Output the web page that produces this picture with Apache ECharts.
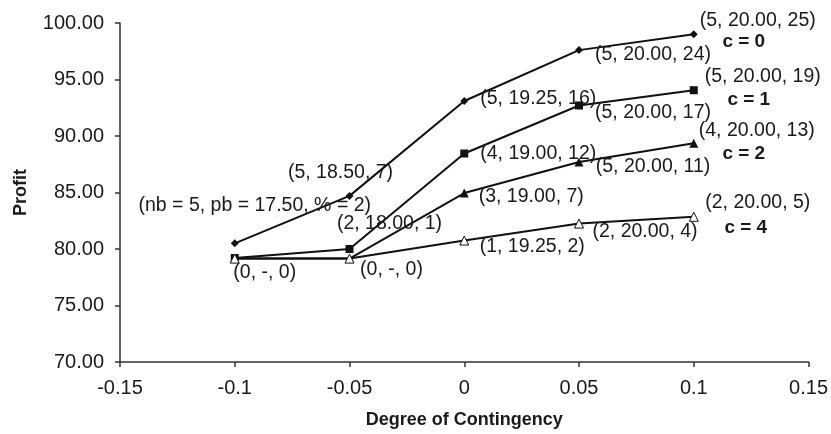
<!DOCTYPE html>
<html>
<head>
<meta charset="utf-8">
<script src="https://cdn.jsdelivr.net/npm/echarts@6/dist/echarts.min.js"></script>
<style>
html,body{margin:0;padding:0;background:#fff;}
#chart{width:831px;height:434px;}
</style>
</head>
<body>
<div id="chart"></div>
<script>
// ---- data ----
const xValues = [-0.1, -0.05, 0, 0.05, 0.1];
const seriesNames = ["c = 0", "c = 1", "c = 2", "c = 4"];
const profitC0 = [80.5, 84.7, 93.1, 97.6, 99.0];
const profitC1 = [79.2, 80.0, 88.45, 92.7, 94.05];
const profitC2 = [79.15, 79.15, 84.95, 87.7, 89.35];
const profitC4 = [79.15, 79.15, 80.75, 82.25, 82.85];
const labelsC0 = ["(nb = 5, pb = 17.50, % = 2)", "(5, 18.50, 7)", "(5, 19.25, 16)", "(5, 20.00, 24)", "(5, 20.00, 25)"];
const labelsC1 = ["(0, -, 0)", "(2, 18.00, 1)", "(4, 19.00, 12)", "(5, 20.00, 17)", "(5, 20.00, 19)"];
const labelsC2 = ["", "", "(3, 19.00, 7)", "(5, 20.00, 11)", "(4, 20.00, 13)"];
const labelsC4 = ["", "(0, -, 0)", "(1, 19.25, 2)", "(2, 20.00, 4)", "(2, 20.00, 5)"];
const xTickLabels = ["-0.15", "-0.1", "-0.05", "0", "0.05", "0.1", "0.15"];
const yTickLabels = ["70.00", "75.00", "80.00", "85.00", "90.00", "95.00", "100.00"];

// ---- layout / style (not data) ----
const labelOffsets = [
  [[20,-38],[-9,-23],[74,-2],[74,5],[64,-14]],
  [[30,15],[40,-25],[74,0],[74,7],[69,-14]],
  [[0,0],[0,0],[67,4],[74,5],[63,-13]],
  [[0,0],[42,11],[68,6],[66,8],[64,-14]]
];
const nameOffsets = [[50,7],[55,10],[50,10],[52,11]];
const symbols = [
  {symbol:'diamond', size:8, fill:'#111'},
  {symbol:'rect', size:8, fill:'#111'},
  {symbol:'triangle', size:9, fill:'#111'},
  {symbol:'triangle', size:9, fill:'#fff'}
];
const FONT = '"Liberation Sans", Arial, sans-serif';

const allProfits = [profitC0, profitC1, profitC2, profitC4];
const allLabels = [labelsC0, labelsC1, labelsC2, labelsC4];

const series = allProfits.map((vals, si) => {
  const last = vals.length - 1;
  return {
    name: seriesNames[si],
    type: 'line',
    data: vals.map((v, i) => ({
      value: [xValues[i], v],
      label: {
        show: allLabels[si][i] !== "",
        formatter: allLabels[si][i],
        position: 'inside',
        align: 'center',
        verticalAlign: 'middle',
        offset: labelOffsets[si][i]
      }
    })),
    symbol: symbols[si].symbol,
    symbolSize: symbols[si].size,
    showAllSymbol: true,
    lineStyle: {color: '#111', width: 2},
    itemStyle: {color: symbols[si].fill, borderColor: '#111', borderWidth: symbols[si].fill === '#fff' ? 1 : 0},
    label: {color: '#1a1a1a', fontSize: 19.5, fontFamily: FONT},
    emphasis: {disabled: true},
    animation: false,
    markPoint: {
      symbol: 'circle',
      symbolSize: 1,
      itemStyle: {color: 'rgba(0,0,0,0)'},
      label: {
        show: true,
        formatter: seriesNames[si],
        position: 'inside',
        align: 'center',
        verticalAlign: 'middle',
        offset: nameOffsets[si],
        color: '#1a1a1a',
        fontSize: 19,
        fontWeight: 'bold',
        fontFamily: FONT
      },
      data: [{coord: [xValues[last], vals[last]]}]
    }
  };
});

const chart = echarts.init(document.getElementById('chart'), null, {renderer: 'canvas'});
chart.setOption({
  animation: false,
  backgroundColor: '#fff',
  grid: {left: 120, right: 21, top: 23, bottom: 65, containLabel: false},
  xAxis: {
    type: 'value',
    min: -0.15, max: 0.15, interval: 0.05,
    name: 'Degree of Contingency',
    nameLocation: 'middle',
    nameGap: 49,
    nameTextStyle: {fontSize: 18, fontWeight: 'bold', color: '#1a1a1a', fontFamily: FONT},
    axisLine: {show: true, onZero: false, lineStyle: {color: '#333', width: 1.5}},
    axisTick: {show: true, inside: false, length: 5, lineStyle: {color: '#333', width: 1.5}},
    axisLabel: {
      fontSize: 20, color: '#1a1a1a', fontFamily: FONT, margin: 16,
      formatter: v => xTickLabels[Math.round((v + 0.15) / 0.05)]
    },
    splitLine: {show: false}
  },
  yAxis: {
    type: 'value',
    min: 70, max: 100, interval: 5,
    name: 'Profit',
    nameLocation: 'middle',
    nameGap: 90,
    nameTextStyle: {fontSize: 18, fontWeight: 'bold', color: '#1a1a1a', fontFamily: FONT},
    axisLine: {show: true, onZero: false, lineStyle: {color: '#333', width: 1.5}},
    axisTick: {show: true, inside: false, length: 5, lineStyle: {color: '#333', width: 1.5}},
    axisLabel: {
      fontSize: 20, color: '#1a1a1a', fontFamily: FONT, margin: 16,
      formatter: v => yTickLabels[Math.round((v - 70) / 5)]
    },
    splitLine: {show: false}
  },
  series: series
});
</script>
</body>
</html>
